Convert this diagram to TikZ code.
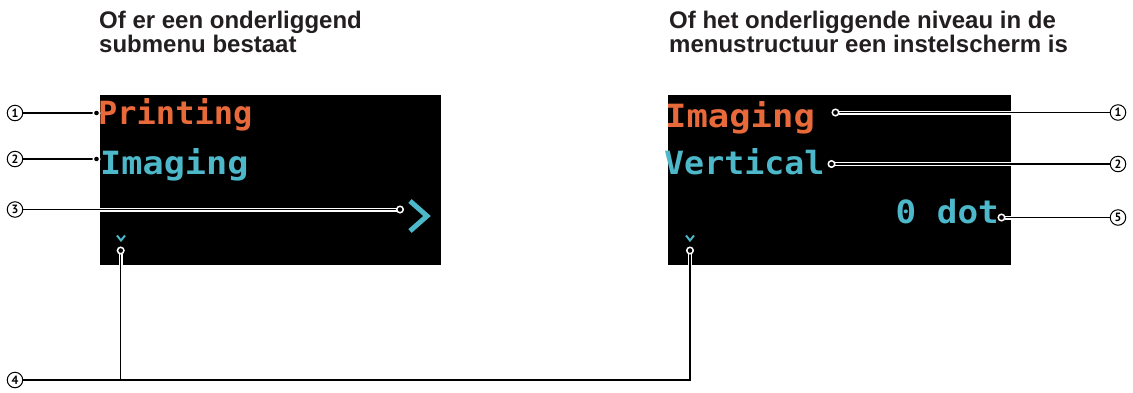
\documentclass[tikz,border=0pt]{standalone}
\usepackage{fontspec}
\setmainfont{Liberation Sans}
\newfontfamily\screenfont{DejaVu Sans Mono}
\newfontfamily\numfont{PT Sans}
\definecolor{oledorange}{HTML}{E8693A}
\definecolor{oledcyan}{HTML}{4DB8C9}
\definecolor{titlegray}{HTML}{231F20}
\begin{document}
\begin{tikzpicture}[x=1pt,y=-1pt,
  titletext/.style={anchor=base west, inner sep=0pt, text=titlegray,
    font=\fontsize{24}{24}\selectfont\bfseries},
  screenbox/.style={fill=black, draw=none, anchor=north west, inner sep=0pt,
    minimum width=#1, minimum height=170pt},
  scrtxt/.style={inner sep=0pt, font=\screenfont\bfseries\fontsize{32}{32}\selectfont},
  numcirc/.style={circle, draw=black, line width=1pt, minimum size=15.5pt, inner sep=0pt,
    font=\numfont\bfseries\fontsize{12}{12}\selectfont},
  leader/.style={line width=1.1pt, draw=black,
    preaction={draw=white, line width=4pt, shorten <=3pt, shorten >=3pt}},
  pin/.style={circle, fill=black, draw=white, line width=1.5pt, minimum size=6.5pt, inner sep=0pt},
  chev/.style={draw=oledcyan, line join=miter}
]
\useasboundingbox (0,0) rectangle (1133,392);

% titles
\node[titletext] (tL1) at (99,28.3) {Of er een onderliggend};
\node[titletext] (tL2) at (99,52.7) {submenu bestaat};
\node[titletext] (tR1) at (669,28.3) {Of het onderliggende niveau in de};
\node[titletext] (tR2) at (669,52.7) {menustructuur een instelscherm is};

% screens
\node[screenbox=341pt] (scrL) at (100,95) {};
\node[screenbox=343pt] (scrR) at (668,95) {};

% screen texts
\node[scrtxt, anchor=base west, text=oledorange] (printL) at (98,124) {Printing};
\node[scrtxt, anchor=base west, text=oledcyan] (imagL) at (100,174) {\scalebox{1.1}[1]{Imaging}};
\node[scrtxt, anchor=base west, text=oledorange] (imagR) at (665,127) {\scalebox{1.11}[1]{Imaging}};
\node[scrtxt, anchor=base west, text=oledcyan] (vertR) at (664,174) {\scalebox{1.04}[1]{Vertical}};
\node[scrtxt, anchor=base east, text=oledcyan] (dotR) at (999,223) {\scalebox{1.07}[1]{0 dot}};

% chevrons
\draw[chev, line width=5pt] (410,201) -- (427,216) -- (410,231);
\draw[chev, line width=2pt] (117,235.5) -- (121,240.5) -- (125,235.5);
\draw[chev, line width=2pt] (686,235.5) -- (690,240.5) -- (694,235.5);

% numbered circles
\node[numcirc] (n1L) at (15,113) {1};
\node[numcirc] (n2L) at (15,159) {2};
\node[numcirc] (n3L) at (15,209.5) {3};
\node[numcirc] (n4) at (15,380) {4};
\node[numcirc] (n1R) at (1118,112.5) {1};
\node[numcirc] (n2R) at (1118,164) {2};
\node[numcirc] (n5R) at (1118,217.5) {5};

% pin positions
\coordinate (p1L) at (96.5,113);
\coordinate (p2L) at (96.5,159);
\coordinate (p3L) at (400,209.5);
\coordinate (p4L) at (120.7,250.5);
\coordinate (p4R) at (690,250.5);
\coordinate (p1R) at (835.5,112.5);
\coordinate (p2R) at (831.5,164);
\coordinate (p5R) at (1001.5,217.5);
\coordinate (j4L) at (120.7,380);
\coordinate (j4R) at (690,380);

% leaders
\draw[leader] (p1L) -- (n1L);
\draw[leader] (p2L) -- (n2L);
\draw[leader] (p3L) -- (n3L);
\draw[leader] (p1R) -- (n1R);
\draw[leader] (p2R) -- (n2R);
\draw[leader] (p5R) -- (n5R);
\draw[leader, line join=miter] (n4) -- (j4R) -- (p4R);
\draw[leader] (p4L) -- (j4L);

% pins
\foreach \p in {p1L,p2L,p3L,p4L,p4R,p1R,p2R,p5R}
  \node[pin] (pin-\p) at (\p) {};
\end{tikzpicture}
\end{document}
